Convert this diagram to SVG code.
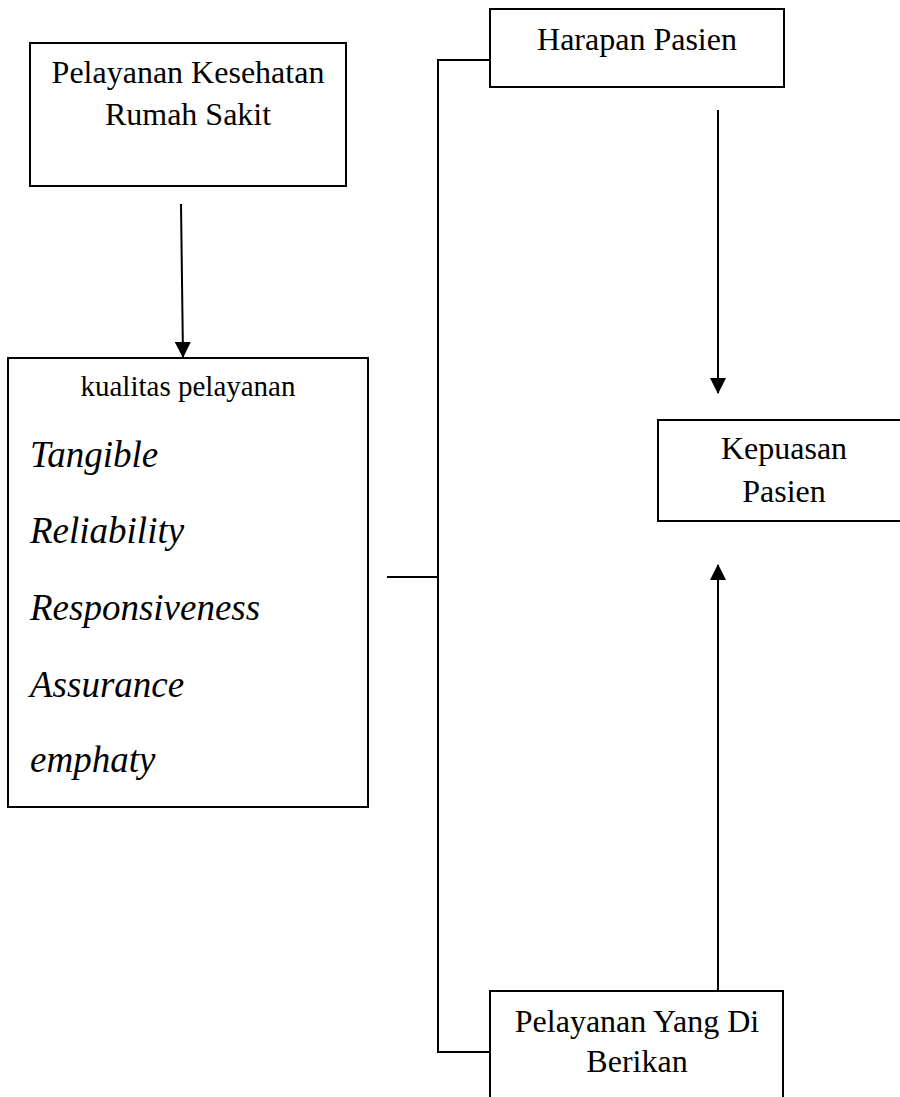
<svg xmlns="http://www.w3.org/2000/svg" width="900" height="1097" viewBox="0 0 900 1097">
<style>
.box{fill:#fff;stroke:#000;stroke-width:2}
.t{font-family:"Liberation Serif","Times New Roman",serif;fill:#000;text-anchor:middle}
.big{font-size:32px}
.it{font-family:"Liberation Serif","Times New Roman",serif;font-style:italic;font-size:37px;fill:#000}
.ln{stroke:#000;stroke-width:2;fill:none}
</style>
<defs>
<marker id="arr" markerWidth="16" markerHeight="16" refX="15" refY="8" orient="auto" markerUnits="userSpaceOnUse" viewBox="0 0 16 16">
<path d="M0,0 L16,8 L0,16 z" fill="#000"/>
</marker>
</defs>
<g id="connectors">
<line class="ln" x1="181" y1="204" x2="183" y2="357" marker-end="url(#arr)"/>
<polyline class="ln" points="490,60 438,60 438,1052 490,1052"/>
<line class="ln" x1="387" y1="577" x2="438" y2="577"/>
<line class="ln" x1="718" y1="110" x2="718" y2="393" marker-end="url(#arr)"/>
<line class="ln" x1="718" y1="991" x2="718" y2="565" marker-end="url(#arr)"/>
</g>
<g id="node-pelayanan-kesehatan">
<rect class="box" x="30" y="43" width="316" height="143"/>
<text class="t big" x="188" y="83">Pelayanan Kesehatan</text>
<text class="t big" x="188" y="125">Rumah Sakit</text>
</g>
<g id="node-kualitas">
<rect class="box" x="8" y="358" width="360" height="449"/>
<text class="t" x="188" y="396" font-size="29">kualitas pelayanan</text>
<text class="it" x="30" y="467">Tangible</text>
<text class="it" x="30" y="543">Reliability</text>
<text class="it" x="30" y="620">Responsiveness</text>
<text class="it" x="30" y="697">Assurance</text>
<text class="it" x="30" y="772">emphaty</text>
</g>
<g id="node-harapan">
<rect class="box" x="490" y="9" width="294" height="78"/>
<text class="t big" x="637" y="50">Harapan Pasien</text>
</g>
<g id="node-kepuasan">
<rect class="box" x="658" y="420" width="252" height="101"/>
<text class="t big" x="784" y="459">Kepuasan</text>
<text class="t big" x="784" y="502">Pasien</text>
</g>
<g id="node-pelayanan-diberikan">
<rect class="box" x="490" y="991" width="293" height="120"/>
<text class="t big" x="637" y="1032">Pelayanan Yang Di</text>
<text class="t big" x="637" y="1072">Berikan</text>
</g>
</svg>
